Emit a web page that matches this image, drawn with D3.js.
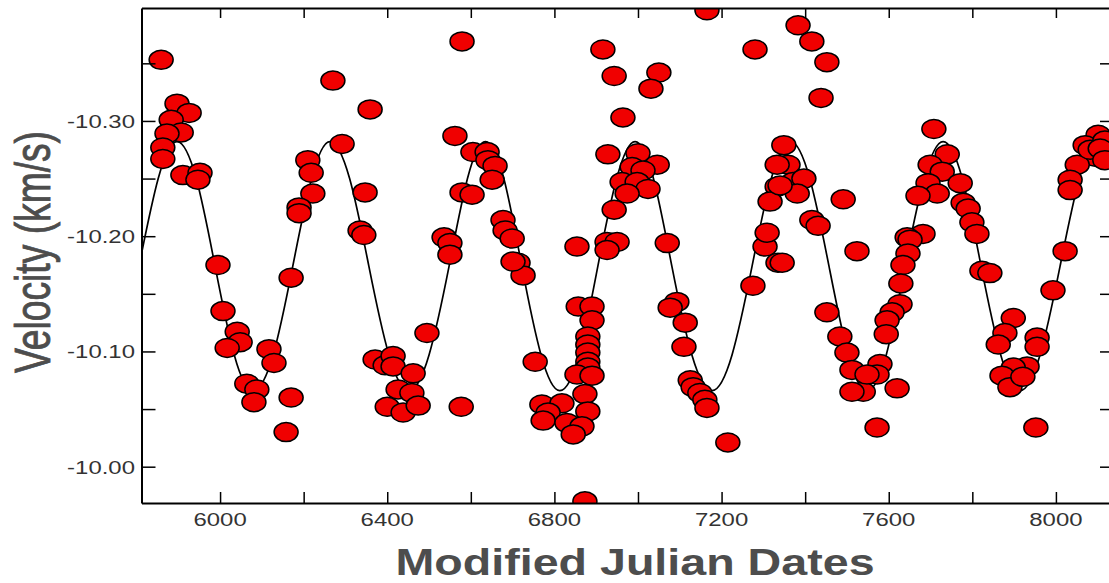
<!DOCTYPE html>
<html>
<head>
<meta charset="utf-8">
<script src="https://cdn.jsdelivr.net/npm/d3@7"></script>
<style>
  body { margin: 0; background: #fff; }
  svg { display: block; font-family: "Liberation Sans", Arial, sans-serif; }
</style>
</head>
<body>
<svg id="chart" width="1109" height="583"></svg>
<script>
// Observed radial velocities (MJD, km/s)
const obsMjd = [
  5859, 5897, 5926, 5883, 5907, 5873, 5863, 5863, 5911, 5952, 5947,
  5995, 6007, 6041, 6048, 6017, 6064, 6088, 6081, 6117, 6129, 6170, 6170, 6158,
  6270, 6359, 6292, 6210, 6218, 6222, 6189, 6189, 6347, 6335, 6344,
  6495, 6371, 6395, 6414, 6414, 6462, 6426, 6459, 6400, 6438, 6474, 6577,
  6536, 6550, 6550, 6579, 6562, 6605, 6639, 6641, 6658, 6651, 6579, 6603,
  6677, 6682, 6699, 6713, 6725, 6701,
  6854, 6926, 6950, 6926, 6754, 6857, 6890, 6890, 6880, 6880, 6880, 6880, 6880,
  6854, 6890, 6873, 6880, 6770, 6818, 6785, 6773, 6830, 6866, 6845, 6873,
  7070, 7093, 7077, 7113, 7110, 7125, 7132, 7148, 7160, 7165, 7215,
  7275, 7304, 7309, 7335, 7165, 6916, 6943, 7050, 7031, 6964,
  6928, 7000, 7046, 6986, 7012, 6962, 6998, 7024, 6974, 6943,
  7280, 7383, 7349, 7359, 7333, 7333, 7371, 7316,
  7416, 7452, 7438, 7397, 7381, 7340, 7491, 7416, 7431,
  7708, 7740, 7699, 7728, 7771, 7694, 7716, 7670, 7778, 7790, 7799, 7811, 7682, 7644,
  8101, 8070, 8094, 8051, 8034, 8034, 8117, 8082, 8106, 8117,
  7524, 7345, 7452, 7483, 7500, 7512, 7539, 7512, 7579, 7572, 7548, 7620, 7572,
  7651, 7646, 7634, 7629, 7627, 7608, 7596, 7594,
  7823, 7842, 7898, 7878, 7862, 7955, 7955, 7931, 7898, 7871, 7890, 7921, 7952,
  7993, 8022
];
const obsVel = [
  -10.353, -10.315, -10.307, -10.301, -10.290, -10.289, -10.277, -10.267, -10.253, -10.255, -10.249,
  -10.175, -10.135, -10.117, -10.108, -10.103, -10.072, -10.067, -10.056, -10.102, -10.090, -10.164, -10.060, -10.030,
  -10.335, -10.310, -10.280, -10.266, -10.255, -10.237, -10.225, -10.220, -10.238, -10.205, -10.201,
  -10.116, -10.093, -10.088, -10.096, -10.087, -10.081, -10.067, -10.064, -10.052, -10.047, -10.053, -10.052,
  -10.199, -10.194, -10.184, -10.369, -10.287, -10.273, -10.273, -10.266, -10.261, -10.249, -10.238, -10.236,
  -10.214, -10.205, -10.198, -10.177, -10.166, -10.178,
  -10.191, -10.195, -10.195, -10.188, -10.091, -10.139, -10.139, -10.127, -10.113, -10.106, -10.099, -10.091, -10.086,
  -10.080, -10.079, -10.063, -10.048, -10.054, -10.055, -10.047, -10.040, -10.038, -10.035, -10.028, -9.970,
  -10.194, -10.143, -10.138, -10.125, -10.104, -10.075, -10.069, -10.064, -10.058, -10.051, -10.021,
  -10.157, -10.191, -10.203, -10.177, -10.396, -10.362, -10.339, -10.342, -10.328, -10.303,
  -10.271, -10.272, -10.262, -10.260, -10.257, -10.247, -10.247, -10.241, -10.237, -10.223,
  -10.362, -10.383, -10.279, -10.262, -10.262, -10.243, -10.247, -10.230,
  -10.369, -10.351, -10.320, -10.250, -10.237, -10.244, -10.232, -10.214, -10.209,
  -10.293, -10.271, -10.262, -10.256, -10.246, -10.246, -10.237, -10.235, -10.229, -10.224, -10.212, -10.202, -10.202, -10.199,
  -10.288, -10.279, -10.269, -10.262, -10.249, -10.240, -10.283, -10.275, -10.276, -10.266,
  -10.187, -10.177, -10.134, -10.113, -10.099, -10.084, -10.065, -10.065, -10.089, -10.080, -10.080, -10.068, -10.034,
  -10.197, -10.185, -10.175, -10.159, -10.141, -10.134, -10.127, -10.115,
  -10.170, -10.168, -10.129, -10.116, -10.106, -10.112, -10.104, -10.087, -10.086, -10.079, -10.069, -10.078, -10.034,
  -10.153, -10.187
];

// Fitted orbit curve
const fitMjd = [
  5806, 5852, 5897, 5943, 5988, 6034, 6079, 6127, 6174, 6219, 6263, 6310,
  6356, 6404, 6452, 6500, 6548, 6592, 6635, 6679, 6722, 6768, 6813, 6859,
  6904, 6949, 6993, 7037, 7081, 7129, 7177, 7225, 7273, 7319, 7365, 7411,
  7457, 7503, 7548, 7594, 7639, 7685, 7730, 7776, 7821, 7868, 7914, 7962,
  8010, 8056, 8101, 8147, 8192
];
const fitVel = [
  -10.174, -10.250, -10.282, -10.250, -10.174, -10.097, -10.066, -10.097, -10.174, -10.250, -10.282, -10.250,
  -10.174, -10.097, -10.066, -10.097, -10.174, -10.250, -10.282, -10.250, -10.174, -10.097, -10.066, -10.097,
  -10.174, -10.250, -10.282, -10.250, -10.174, -10.097, -10.066, -10.097, -10.174, -10.250, -10.282, -10.250,
  -10.174, -10.097, -10.066, -10.097, -10.174, -10.250, -10.282, -10.250, -10.174, -10.097, -10.066, -10.097,
  -10.174, -10.250, -10.282, -10.250, -10.174
];

// Ticks
const xTicks = [6000, 6200, 6400, 6600, 6800, 7000, 7200, 7400, 7600, 7800, 8000];
const xTickLabels = [6000, 6400, 6800, 7200, 7600, 8000];
const yTicks = [-10.35, -10.30, -10.25, -10.20, -10.15, -10.10, -10.05, -10.00];
const yTickLabels = [-10.30, -10.20, -10.10, -10.00];

const svg = d3.select("#chart");
const plotLeft = 141.5, plotRight = 1114, plotTop = 8, plotBottom = 503;
const sx = 1.26; // the original picture is stretched horizontally

const x = d3.scaleLinear().domain([5812, 8139]).range([plotLeft, plotRight]);
const y = d3.scaleLinear().domain([-10.398, -9.9685]).range([plotTop, plotBottom]);

svg.append("rect").attr("width", 1109).attr("height", 583).attr("fill", "#fff");

svg.append("defs").append("clipPath").attr("id", "plot")
  .append("rect")
  .attr("x", plotLeft).attr("y", plotTop)
  .attr("width", plotRight - plotLeft).attr("height", plotBottom - plotTop);

// Fit curve
const line = d3.line()
  .x(d => x(d[0]))
  .y(d => y(d[1]))
  .curve(d3.curveNatural);

svg.append("path")
  .datum(fitMjd.map((m, i) => [m, fitVel[i]]))
  .attr("clip-path", "url(#plot)")
  .attr("fill", "none")
  .attr("stroke", "#000")
  .attr("stroke-width", 1.7)
  .attr("d", line);

// Observations
svg.append("g")
  .attr("clip-path", "url(#plot)")
  .selectAll("ellipse")
  .data(obsMjd.map((m, i) => [m, obsVel[i]]))
  .join("ellipse")
  .attr("cx", d => x(d[0]))
  .attr("cy", d => y(d[1]))
  .attr("rx", 12)
  .attr("ry", 9.5)
  .attr("fill", "#f00000")
  .attr("stroke", "#000")
  .attr("stroke-width", 1.5);

// Axes (ticks pointing inward on all four sides)
function styleAxis(g) {
  g.select(".domain").attr("stroke", "#000").attr("stroke-width", 2);
  g.selectAll(".tick line").attr("stroke", "#000").attr("stroke-width", 1.5);
  g.selectAll(".tick text").remove();
}

svg.append("g")
  .attr("transform", `translate(0,${plotBottom})`)
  .call(d3.axisBottom(x).tickValues(xTicks).tickSize(-11).tickSizeOuter(0))
  .call(styleAxis);

svg.append("g")
  .attr("transform", `translate(0,${plotTop})`)
  .call(d3.axisTop(x).tickValues(xTicks).tickSize(-10).tickSizeOuter(0))
  .call(styleAxis);

svg.append("g")
  .attr("transform", `translate(${plotLeft},0)`)
  .call(d3.axisLeft(y).tickValues(yTicks).tickSize(-14).tickSizeOuter(0))
  .call(styleAxis);

svg.append("g")
  .attr("transform", `translate(${plotRight},0)`)
  .call(d3.axisRight(y).tickValues(yTicks).tickSize(-14).tickSizeOuter(0))
  .call(styleAxis);

// Tick labels
svg.append("g").selectAll("text")
  .data(xTickLabels)
  .join("text")
  .attr("transform", d => `translate(${x(d)},526) scale(${sx},1)`)
  .attr("text-anchor", "middle")
  .attr("fill", "#333")
  .style("font-size", "19px")
  .text(d => d);

svg.append("g").selectAll("text")
  .data(yTickLabels)
  .join("text")
  .attr("transform", d => `translate(135,${y(d)}) scale(${sx},1)`)
  .attr("text-anchor", "end")
  .attr("dy", "0.36em")
  .attr("fill", "#333")
  .style("font-size", "19px")
  .text(d => "-" + Math.abs(d).toFixed(2));

// Axis titles
svg.append("text")
  .attr("transform", `translate(635,575) scale(${sx},1)`)
  .attr("text-anchor", "middle")
  .attr("fill", "#4d4d4d")
  .style("font-size", "37px")
  .style("font-weight", "bold")
  .text("Modified Julian Dates");

svg.append("text")
  .attr("transform", `translate(50,252) scale(${sx},1) rotate(-90)`)
  .attr("text-anchor", "middle")
  .attr("fill", "#4d4d4d")
  .attr("stroke", "#4d4d4d")
  .attr("stroke-width", 0.7)
  .attr("textLength", 242)
  .attr("lengthAdjust", "spacingAndGlyphs")
  .style("font-size", "40px")
  .text("Velocity (km/s)");
</script>
</body>
</html>
